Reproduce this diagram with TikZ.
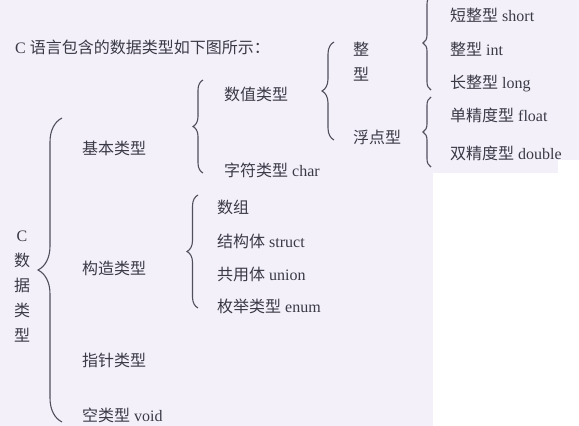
\documentclass[tikz,border=0pt]{standalone}
\usepackage{fontspec}
\setmainfont{Liberation Serif}
\newfontfamily\cjk{Noto Sans CJK SC}
\usetikzlibrary{decorations.pathreplacing}
\definecolor{bg}{RGB}{244,240,250}
\definecolor{ink}{RGB}{58,58,70}
\definecolor{bracecol}{RGB}{80,80,92}
\newcommand\zh[1]{{\cjk #1}}
\begin{document}
\begin{tikzpicture}[x=1pt,y=-1pt,
  lbl/.style={anchor=base west, inner sep=0pt, text=ink, font=\fontsize{16}{19}\selectfont},
  vlbl/.style={anchor=center, inner sep=0pt, text=ink, align=center, font=\fontsize{16}{25}\selectfont},
  brc/.style={draw=bracecol, line width=1.1pt, decorate, decoration={brace, amplitude=#1}}]
\useasboundingbox (0,0) rectangle (579,426);
\fill[bg] (0,0) rectangle (579,426);
\fill[white] (433,173) -- (558,173) -- (558,160) -- (579,160) -- (579,426) -- (433,426) -- cycle;

% title
\node[lbl] (title) at (15,53) {C \zh{语言包含的数据类型如下图所示：}};

% root
\node[vlbl] (root) at (22,287) {C\\\zh{数}\\\zh{据}\\\zh{类}\\\zh{型}};
\draw[brc=24pt] (62,422) -- (62,118);

% level 1
\node[lbl] (basic) at (82,154) {\zh{基本类型}};
\node[lbl] (constr) at (82,274) {\zh{构造类型}};
\node[lbl] (ptr) at (82,366) {\zh{指针类型}};
\node[lbl] (void) at (82,421) {\zh{空类型} void};

% basic types
\draw[brc=10pt] (203,173) -- (203,80);
\node[lbl] (num) at (224,100) {\zh{数值类型}};
\node[lbl] (chr) at (224,176) {\zh{字符类型} char};

% constructed types
\draw[brc=11pt] (198,308) -- (198,195);
\node[lbl] (arr) at (217,213) {\zh{数组}};
\node[lbl] (struct) at (217,247) {\zh{结构体} struct};
\node[lbl] (union) at (217,280) {\zh{共用体} union};
\node[lbl] (enum) at (217,312) {\zh{枚举类型} enum};

% numeric types
\draw[brc=12pt] (334,140) -- (334,42);
\node[vlbl, anchor=north west] (int) at (353,42) {\zh{整}\\\zh{型}};
\node[lbl] (flt) at (353,143) {\zh{浮点型}};

% integer types
\draw[brc=8pt] (431,90) -- (431,-4);
\node[lbl] (short) at (450,21) {\zh{短整型} short};
\node[lbl] (intt) at (450,55) {\zh{整型} int};
\node[lbl] (long) at (450,88) {\zh{长整型} long};

% float types
\draw[brc=8pt] (431,167) -- (431,97);
\node[lbl] (float) at (450,121) {\zh{单精度型} float};
\node[lbl] (double) at (450,159) {\zh{双精度型} double};
\end{tikzpicture}
\end{document}
